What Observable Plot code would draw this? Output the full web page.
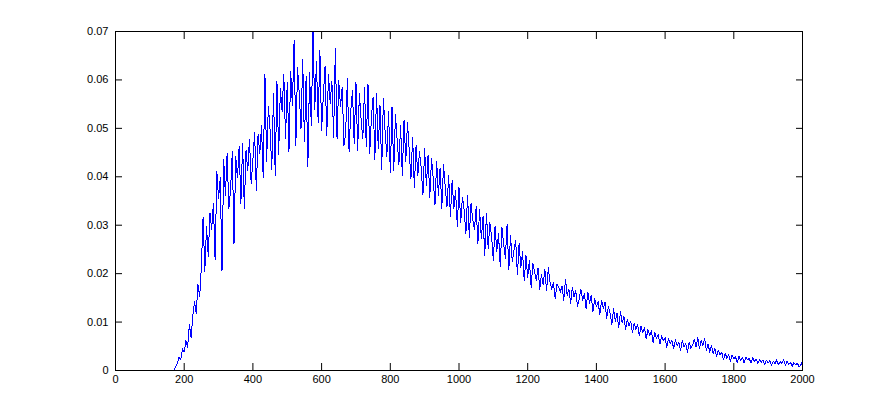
<!DOCTYPE html>
<html>
<head>
<meta charset="utf-8">
<script src="https://cdn.jsdelivr.net/npm/d3@7"></script>
<script src="https://cdn.jsdelivr.net/npm/@observablehq/plot@0.6"></script>
<style>
  html, body { margin: 0; padding: 0; background: #fff; }
  #chart svg { display: block; }
</style>
</head>
<body>
<div id="chart"></div>
<script>
// Sampling grid of the series (x from 170 to 2000, every 5 units)
const xStart = 170;
const xStep = 5;
// Values, one per sample
const yValues = [
  // 170-265
  0.0000, .0008, .0015, .0028, .0022, .0045, .0038, .0062, .0048, .0095, .0068, .0112, .0142, .0118, .0178, .0152, .0215, .0316, .0205, .0298,
  // 270-365
  .0235, .0325, .0292, .0345, .0228, .0412, .0355, .0398, .0205, .0435, .0362, .0448, .0335, .0372, .0452, .0262, .0441, .0398, .0462, .0345,
  // 370-465
  .0468, .0335, .0455, .0412, .0478, .0385, .0435, .0492, .0372, .0488, .0448, .0505, .0398, .0612, .0432, .0545, .0498, .0415, .0572, .0402,
  // 470-565
  .0598, .0445, .0582, .0535, .0612, .0478, .0595, .0452, .0618, .0548, .0682, .0465, .0625, .0572, .0498, .0642, .0472, .0608, .0422, .0615,
  // 570-665
  .0505, .0698, .0538, .0638, .0512, .0662, .0495, .0568, .0628, .0485, .0612, .0552, .0598, .0482, .0665, .0478, .0598, .0545, .0585, .0465,
  // 670-765
  .0488, .0602, .0452, .0538, .0578, .0468, .0596, .0455, .0572, .0518, .0478, .0585, .0462, .0592, .0448, .0522, .0565, .0435, .0572, .0458,
  // 770-865
  .0548, .0415, .0562, .0492, .0442, .0535, .0408, .0545, .0412, .0528, .0475, .0425, .0505, .0402, .0518, .0432, .0512, .0455, .0395, .0482,
  // 870-965
  .0378, .0465, .0402, .0452, .0418, .0362, .0458, .0382, .0445, .0358, .0438, .0395, .0342, .0432, .0362, .0418, .0335, .0425, .0378, .0338,
  // 970-1065
  .0402, .0318, .0392, .0335, .0372, .0298, .0378, .0305, .0358, .0332, .0282, .0362, .0275, .0345, .0312, .0292, .0338, .0262, .0332, .0272,
  // 1070-1165
  .0318, .0238, .0325, .0252, .0305, .0275, .0228, .0298, .0245, .0282, .0215, .0295, .0262, .0232, .0302, .0208, .0278, .0225, .0248, .0268,
  // 1170-1265
  .0198, .0262, .0212, .0245, .0185, .0238, .0192, .0228, .0172, .0222, .0205, .0185, .0212, .0168, .0198, .0178, .0208, .0165, .0212, .0182,
  // 1270-1365
  .0168, .0182, .0148, .0178, .0172, .0162, .0175, .0145, .0188, .0155, .0168, .0138, .0172, .0152, .0165, .0132, .0148, .0168, .0145, .0158,
  // 1370-1465
  .0128, .0162, .0138, .0155, .0122, .0148, .0132, .0142, .0115, .0145, .0128, .0141, .0108, .0132, .0118, .0095, .0128, .0102, .0118, .0088,
  // 1470-1565
  .0122, .0098, .0112, .0085, .0105, .0092, .0102, .0078, .0098, .0085, .0095, .0072, .0092, .0078, .0088, .0065, .0085, .0072, .0082, .0058,
  // 1570-1665
  .0078, .0066, .0075, .0055, .0072, .0062, .0068, .0048, .0066, .0055, .0062, .0045, .0064, .0052, .0058, .0042, .0062, .0048, .0055, .0038,
  // 1670-1765
  .0058, .0046, .0052, .0065, .0048, .0068, .0045, .0062, .0052, .0066, .0042, .0055, .0038, .0052, .0035, .0046, .0028, .0042, .0032, .0038,
  // 1770-1865
  .0022, .0036, .0025, .0034, .0018, .0032, .0024, .0028, .0017, .0029, .0021, .0027, .0016, .0028, .0022, .0025, .0015, .0026, .0019, .0024,
  // 1870-1965
  .0014, .0023, .0017, .0022, .0012, .0021, .0016, .0020, .0011, .0019, .0014, .0022, .0012, .0018, .0015, .0023, .0011, .0019, .0013, .0017,
  // 1970-2000
  .0009, .0016, .0012, .0015, .0008, .0011, .0021
];
const xTicks = [0, 200, 400, 600, 800, 1000, 1200, 1400, 1600, 1800, 2000];
const yTicks = [0, 0.01, 0.02, 0.03, 0.04, 0.05, 0.06, 0.07];

const data = yValues.map((y, i) => ({x: xStart + i * xStep, y}));

const chart = Plot.plot({
  width: 885,
  height: 416,
  marginLeft: 115,
  marginRight: 83,
  marginTop: 31,
  marginBottom: 46,
  style: {fontFamily: "'Liberation Sans', Arial, sans-serif", fontSize: "11px", color: "#000", background: "#fff"},
  x: {domain: [0, 2000]},
  y: {domain: [0, 0.07]},
  marks: [
    Plot.line(data, {x: "x", y: "y", stroke: "#0000ff", strokeWidth: 1, shapeRendering: "crispEdges"}),
    Plot.frame({stroke: "#000"}),
    Plot.axisX({ticks: xTicks, anchor: "bottom", tickSize: -7, tickPadding: 12, tickFormat: d => String(d), label: null, stroke: "#000", fill: "#000"}),
    Plot.axisX({ticks: xTicks, anchor: "top", tickSize: -7, tickFormat: () => "", label: null, stroke: "#000"}),
    Plot.axisY({ticks: yTicks, anchor: "left", tickSize: -7, tickPadding: 14, tickFormat: d => String(d), label: null, stroke: "#000", fill: "#000"}),
    Plot.axisY({ticks: yTicks, anchor: "right", tickSize: -7, tickFormat: () => "", label: null, stroke: "#000"})
  ]
});
document.getElementById("chart").appendChild(chart);
</script>
</body>
</html>
